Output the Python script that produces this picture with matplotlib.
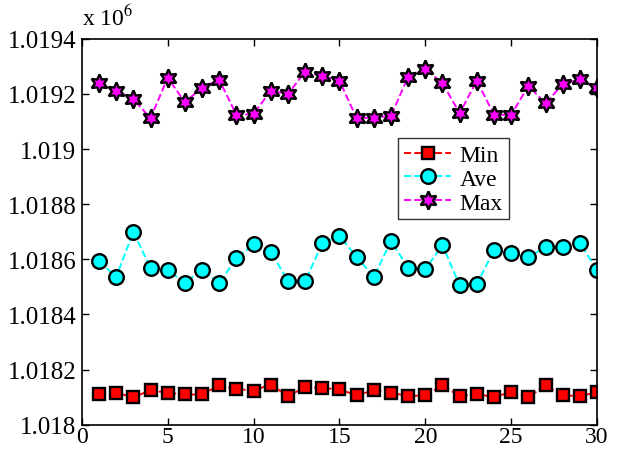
import numpy as np
import matplotlib
matplotlib.use("Agg")
import matplotlib.pyplot as plt

plt.rcParams["font.family"] = ["Liberation Serif", "DejaVu Serif"]
plt.rcParams["mathtext.fontset"] = "stix"

runs = list(range(1, 31))

min_vals = [1018110, 1018116, 1018100, 1018125, 1018116, 1018110, 1018110, 1018143,
            1018130, 1018124, 1018146, 1018104, 1018136, 1018134, 1018128, 1018107,
            1018125, 1018116, 1018104, 1018107, 1018143, 1018104, 1018112, 1018100,
            1018119, 1018100, 1018143, 1018107, 1018104, 1018118]

ave_vals = [1018594, 1018536, 1018700, 1018568, 1018562, 1018514, 1018562, 1018514,
            1018604, 1018654, 1018628, 1018522, 1018520, 1018658, 1018685, 1018609,
            1018536, 1018666, 1018570, 1018564, 1018652, 1018506, 1018510, 1018634,
            1018622, 1018607, 1018646, 1018644, 1018660, 1018560]

max_vals = [1019239, 1019212, 1019181, 1019112, 1019259, 1019170, 1019223, 1019251,
            1019124, 1019127, 1019212, 1019199, 1019281, 1019265, 1019248, 1019112,
            1019114, 1019120, 1019263, 1019289, 1019239, 1019130, 1019248, 1019124,
            1019124, 1019229, 1019166, 1019235, 1019253, 1019220]

yticks = [1018000, 1018200, 1018400, 1018600, 1018800, 1019000, 1019200, 1019400]
ytick_labels = ["1.018", "1.0182", "1.0184", "1.0186", "1.0188", "1.019", "1.0192", "1.0194"]
xticks = [0, 5, 10, 15, 20, 25, 30]

fig = plt.figure(figsize=(6.2, 4.52), dpi=100)
ax = fig.add_axes([0.132, 0.058, 0.831, 0.854])

ax.plot(runs, min_vals, ls="--", color="#ff0000", lw=1.4, marker="s", ms=9,
        mfc="#ff0000", mec="black", mew=1.7, label="Min")
ax.plot(runs, ave_vals, ls="--", color="#00ffff", lw=1.4, marker="o", ms=10.5,
        mfc="#00ffff", mec="black", mew=1.7, label="Ave")
ax.plot(runs, max_vals, ls="--", color="#ff00ff", lw=1.4, marker=(6, 1, 0), ms=13,
        mfc="#ff00ff", mec="black", mew=1.7, label="Max")

ax.set_xlim(0, 30)
ax.set_ylim(1018000, 1019400)
ax.set_xticks(xticks)
ax.set_yticks(yticks)
ax.set_yticklabels(ytick_labels)
ax.tick_params(direction="in", top=True, right=True, labelsize=18, length=5, width=1,
               pad=4)
ax.tick_params(axis="x", labelsize=17, pad=1)
for s in ax.spines.values():
    s.set_linewidth(1.2)

fig.text(0.132, 0.932, r"x 10$^{6}$", fontsize=17, ha="left", va="bottom")

leg = ax.legend(loc="upper left", bbox_to_anchor=(0.614, 0.742), fontsize=17,
                frameon=True, fancybox=False, edgecolor="black",
                borderpad=0.25, labelspacing=0.1, handlelength=2.0,
                handletextpad=0.35, borderaxespad=0)
leg.get_frame().set_linewidth(1.0)

fig.savefig("out.png", dpi=100)
